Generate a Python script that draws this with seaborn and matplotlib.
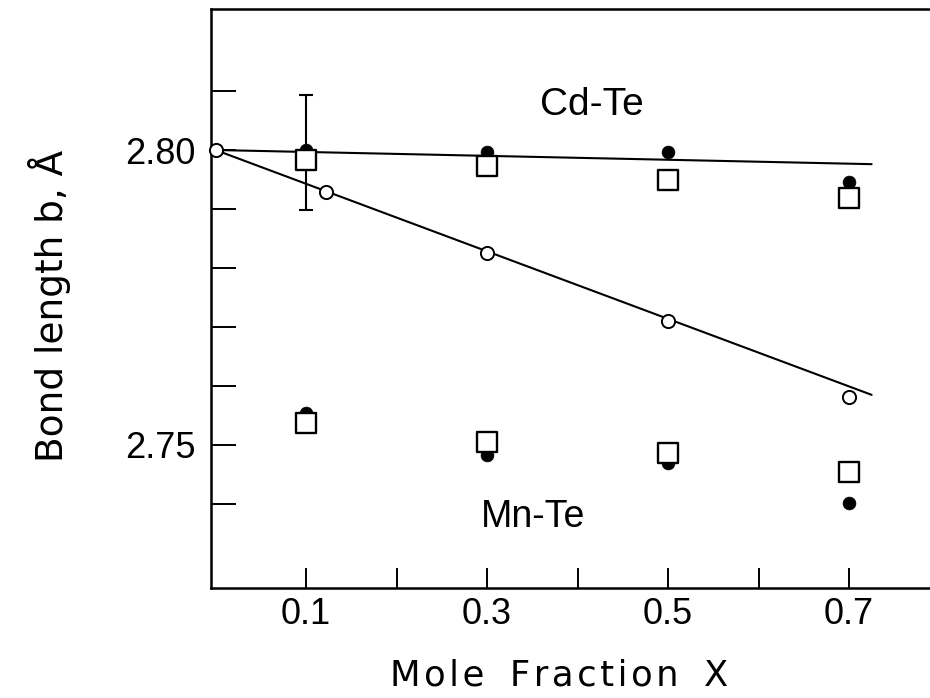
import matplotlib
matplotlib.use("Agg")
import matplotlib.pyplot as plt
import seaborn as sns

# Mole fraction x of Mn in Cd(1-x)Mn(x)Te
mole_fraction = [0.1, 0.3, 0.5, 0.7]

# Cd-Te nearest-neighbour bond lengths (Å)
cdte_filled = [2.8000, 2.7997, 2.7997, 2.7946]
cdte_square = [2.7983, 2.7973, 2.7949, 2.7919]

# Mn-Te nearest-neighbour bond lengths (Å)
mnte_filled = [2.7554, 2.7483, 2.7469, 2.7402]
mnte_square = [2.7537, 2.7505, 2.7486, 2.7454]

# Average (virtual-crystal) bond length
open_x = [0.0, 0.122, 0.3, 0.5, 0.7]
open_b = [2.8000, 2.7929, 2.7825, 2.7710, 2.7581]

# Straight guide lines
fit_x = [0.0, 0.725]
cdte_fit = [2.8000, 2.7976]
open_fit = [2.8000, 2.7585]

# Uncertainty of the x = 0.1 Cd-Te point
err_x = [0.1]
err_y = [2.7996]
err_b = [0.0098]

x_ticks = [0.1, 0.2, 0.3, 0.4, 0.5, 0.6, 0.7]
x_tick_labels = ["0.1", "", "0.3", "", "0.5", "", "0.7"]
y_ticks = [2.74, 2.75, 2.76, 2.77, 2.78, 2.79, 2.80, 2.81]
y_tick_labels = ["", "2.75", "", "", "", "", "2.80", ""]

sns.set_style("white")
plt.rcParams["font.family"] = ["Liberation Sans", "DejaVu Sans"]
plt.rcParams["text.color"] = "black"
plt.rcParams["axes.labelcolor"] = "black"

fig = plt.figure(figsize=(9.3, 6.98), dpi=100)
W, H = 930, 698
ax = fig.add_axes([211 / W, 1 - 588 / H, 1 - 211 / W, 579 / H])

ax.set_xlim(-0.005, 0.7895)
ax.set_ylim(2.72576, 2.82390)

# guide lines
sns.lineplot(x=fit_x, y=cdte_fit, color="black", linewidth=1.5, ax=ax, zorder=2)
sns.lineplot(x=fit_x, y=open_fit, color="black", linewidth=1.5, ax=ax, zorder=2)

ax.errorbar(err_x, err_y, yerr=err_b, fmt="none", ecolor="black",
            elinewidth=1.5, capsize=5, capthick=1.5, zorder=2)

# filled circles
for vals in (cdte_filled, mnte_filled):
    sns.scatterplot(x=mole_fraction, y=vals, marker="o", s=85, color="black",
                    edgecolor="black", linewidth=0.5, ax=ax, zorder=3)

# open squares
for vals in (cdte_square, mnte_square):
    sns.scatterplot(x=mole_fraction, y=vals, marker="s", s=215, color="white",
                    edgecolor="black", linewidth=1.7, ax=ax, zorder=4)

# open circles
sns.scatterplot(x=open_x, y=open_b, marker="o", s=90, color="white",
                edgecolor="black", linewidth=1.4, ax=ax, zorder=5, clip_on=False)

ax.set_xticks(x_ticks)
ax.set_xticklabels(x_tick_labels)
ax.set_yticks(y_ticks)
ax.set_yticklabels(y_tick_labels)
ax.tick_params(axis="x", which="major", bottom=True, top=False, direction="in",
               length=14.5, width=1.4, labelsize=26, pad=6.5,
               color="black", labelcolor="black")
ax.tick_params(axis="y", which="major", left=True, right=False, direction="in",
               length=18, width=1.4, labelsize=26, pad=11,
               color="black", labelcolor="black")

for side in ("left", "bottom", "top"):
    ax.spines[side].set_linewidth(1.8)
    ax.spines[side].set_color("black")
ax.spines["right"].set_visible(False)

ax.text(0.416, 2.80593, "Cd-Te", fontsize=28, ha="center", va="baseline",
        color="black")
ax.text(0.3508, 2.7361, "Mn-Te", fontsize=27, ha="center", va="baseline",
        color="black")

xlabel = ("\u200a".join("Mole") + "\u2009 \u2009" +
          "\u200a".join("Fraction") + "\u2009 \u2009" + "X")
ax.set_xlabel(xlabel, fontsize=25.5, family=["DejaVu Sans"], color="black")
ax.xaxis.set_label_coords(0.484, -0.1226)
ax.xaxis.label.set_va("top")

ax.set_ylabel("Bond length b, Å", fontsize=27, family=["DejaVu Sans"],
              color="black")
ax.yaxis.set_label_coords(-0.195, 0.487)

fig.savefig("out.png", dpi=100)
